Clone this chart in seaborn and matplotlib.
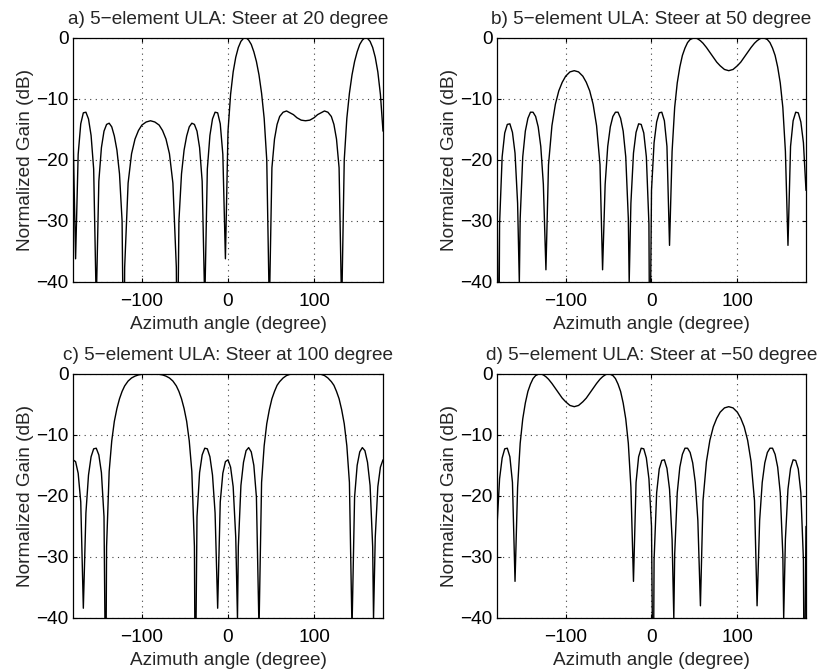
import pandas as pd
import seaborn as sns
import matplotlib
matplotlib.use("Agg")
import matplotlib.pyplot as plt

# Winkel (Grad) und normierter Gewinn (dB)
angles_a = [-180, -177, -174, -171, -168, -165, -162, -159, -156, -153, -150, -147, -144, -141, -138,
            -135, -132, -129, -126, -123, -121, -120, -116, -112, -108, -104, -100, -95, -90,
            -85, -80, -76, -72, -68, -64, -60, -59, -57, -54, -51, -48, -45, -42, -39, -36, -33,
            -30, -27, -24, -21, -18, -15, -12, -9, -6, -3, 0, 3, 6, 9, 12, 15, 18, 21, 24, 27, 30,
            33, 36, 39, 42, 45, 48, 51, 54, 57, 60, 64, 68, 72, 76, 80, 85, 90, 95, 100, 104, 108,
            112, 116, 120, 123, 126, 129, 132, 135, 138, 141, 144, 147, 150, 153, 156, 159, 162,
            165, 168, 171, 174, 177, 180]
gain_a = [-15.3, -36.2, -19.1, -14.1, -12.3, -12.2, -13.3, -16.0, -21.5, -43.6, -23.5, -18.0, -15.3,
          -14.2, -14.0, -14.6, -16.1, -18.4, -22.3, -30.0, -57.6, -37.6, -23.8, -19.0, -16.6, -15.2,
          -14.3, -13.8, -13.6,
          -13.8, -14.3, -15.2, -16.6, -19.0, -23.8, -37.6, -57.6, -30.0, -22.3, -18.4, -16.1, -14.6,
          -14.0, -14.2, -15.3, -18.0, -23.5, -43.6, -21.5, -16.0, -13.3, -12.2, -12.3, -14.1, -19.1,
          -36.2, -15.3, -9.3, -5.6, -3.2, -1.6, -0.6, -0.1, 0.0, -0.4, -1.1, -2.3, -3.9, -6.1, -9.1,
          -13.2, -20.0, -44.6, -21.3, -16.6, -14.2, -12.9, -12.2, -12.0, -12.3, -12.6, -13.1, -13.5,
          -13.6, -13.5, -13.1, -12.6, -12.3, -12.0, -12.2, -12.9, -14.2, -16.6, -21.3, -44.6, -20.0,
          -13.2, -9.1, -6.1, -3.9, -2.3, -1.1, -0.4, 0.0, -0.1, -0.6, -1.6, -3.2, -5.6, -9.3, -15.3]

angles_b = [-180, -178, -177, -174, -171, -168, -165, -162, -159, -156, -154, -153, -150, -147, -144,
            -141, -138, -135, -132, -129, -126, -123, -120, -116, -112, -108, -104, -100, -95, -90,
            -85, -80, -76, -72, -68, -64, -60, -57, -54, -51, -48, -45, -42, -39, -36, -33, -30,
            -27, -26, -24, -21, -18, -15, -12, -9, -6, -3, -2, 0, 3, 6, 9, 12, 15, 18, 21, 24, 27,
            30, 33, 36, 39, 42, 45, 48, 51, 54, 57, 60, 64, 68, 72, 76, 80, 85, 90, 95, 100, 104,
            108, 112, 116, 120, 123, 126, 129, 132, 135, 138, 141, 144, 147, 150, 153, 156, 159,
            162, 165, 168, 171, 174, 177, 180]
gain_b = [-25.0, -57.0, -30.5, -19.5, -15.6, -14.2, -14.1, -15.5, -18.9, -27.1, -40.1, -29.6, -19.5,
          -15.3, -13.2, -12.2, -12.2, -12.9, -14.6, -17.8, -24.0, -38.0, -20.8, -14.4, -10.9, -8.7,
          -7.3, -6.3, -5.6, -5.4,
          -5.6, -6.3, -7.3, -8.7, -10.9, -14.4, -20.8, -38.0, -24.0, -17.8, -14.6, -12.9, -12.2,
          -12.2, -13.2, -15.3, -19.5, -29.6, -40.1, -27.1, -18.9, -15.5, -14.1, -14.2, -15.6, -19.5,
          -30.5, -57.0, -25.0, -17.2, -13.8, -12.3, -12.2, -13.6, -17.8, -34.0, -18.6, -11.4, -7.4,
          -4.8, -2.9, -1.7, -0.8, -0.3, -0.1, 0.0, -0.2, -0.5, -0.9, -1.6, -2.4, -3.2, -4.0, -4.6,
          -5.2, -5.4, -5.2, -4.6, -4.0, -3.2, -2.4, -1.6, -0.9, -0.5, -0.2, 0.0, -0.1, -0.3, -0.8,
          -1.7, -2.9, -4.8, -7.4, -11.4, -18.6, -34.0, -17.8, -13.6, -12.2, -12.3, -13.8, -17.2, -25.0]

angles_c = [-180, -177, -174, -171, -168, -165, -162, -159, -156, -153, -150, -147, -144, -142, -141,
            -138, -135, -132, -129, -126, -123, -120, -116, -112, -108, -104, -100, -95, -90,
            -85, -80, -76, -72, -68, -64, -60, -57, -54, -51, -48, -45, -42, -39, -38, -36, -33,
            -30, -27, -24, -21, -18, -15, -12, -9, -6, -3, 0, 3, 6, 9, 11, 12, 15, 18, 21, 24, 27,
            30, 33, 36, 39, 42, 45, 48, 51, 54, 57, 60, 64, 68, 72, 76, 80, 85, 90, 95, 100, 104,
            108, 112, 116, 120, 123, 126, 129, 132, 135, 138, 141, 144, 147, 150, 153, 156, 159,
            162, 165, 168, 169, 171, 174, 177, 180]
gain_c = [-14.1, -14.4, -16.3, -21.0, -38.4, -22.8, -16.6, -13.6, -12.3, -12.2, -13.3, -16.2, -23.4,
          -55.0, -28.3, -16.0, -11.0, -7.8, -5.7, -4.1, -2.9, -2.0, -1.2, -0.7, -0.4, -0.2, -0.1,
          0.0, 0.0,
          0.0, -0.1, -0.2, -0.4, -0.7, -1.2, -2.0, -2.9, -4.1, -5.7, -7.8, -11.0, -16.0, -28.3,
          -55.0, -23.4, -16.2, -13.3, -12.2, -12.3, -13.6, -16.6, -22.8, -38.4, -21.0, -16.3, -14.4,
          -14.1, -15.3, -18.5, -26.8, -40.1, -28.3, -18.3, -14.5, -12.6, -12.1, -12.8, -15.0, -20.2,
          -41.9, -17.8, -11.8, -8.2, -5.9, -4.1, -2.9, -1.9, -1.3, -0.7, -0.3, -0.1, 0.0, 0.0, 0.0,
          0.0, 0.0, 0.0, 0.0, -0.1, -0.3, -0.7, -1.3, -1.9, -2.9, -4.1, -5.9, -8.2, -11.8, -17.8,
          -41.9, -20.2, -15.0, -12.8, -12.1, -12.6, -14.5, -18.3, -28.3, -40.1, -26.8, -18.5, -15.3,
          -14.1]

angles_d = [-180, -177, -174, -171, -168, -165, -162, -159, -156, -153, -150, -147, -144, -141, -138,
            -135, -132, -129, -126, -123, -120, -116, -112, -108, -104, -100, -95, -90, -85, -80,
            -76, -72, -68, -64, -60, -57, -54, -51, -48, -45, -42, -39, -36, -33, -30, -27, -24,
            -21, -18, -15, -12, -9, -6, -3, 0, 2, 3, 6, 9, 12, 15, 18, 21, 24, 26, 27, 30, 33, 36,
            39, 42, 45, 48, 51, 54, 57, 60, 64, 68, 72, 76, 80, 85, 90, 95, 100, 104, 108, 112,
            116, 120, 123, 126, 129, 132, 135, 138, 141, 144, 147, 150, 153, 154, 156, 159, 162,
            165, 168, 171, 174, 177, 178, 180]
gain_d = [-25.0, -17.2, -13.8, -12.3, -12.2, -13.6, -17.8, -34.0, -18.6, -11.4, -7.4, -4.8, -2.9,
          -1.7, -0.8, -0.3, -0.1, 0.0, -0.2, -0.5, -0.9, -1.6, -2.4, -3.2, -4.0, -4.6, -5.2, -5.4,
          -5.2, -4.6, -4.0, -3.2, -2.4, -1.6, -0.9, -0.5, -0.2, 0.0, -0.1, -0.3, -0.8, -1.7, -2.9,
          -4.8, -7.4, -11.4, -18.6, -34.0, -17.8, -13.6, -12.2, -12.3, -13.8, -17.2, -25.0, -57.0,
          -30.5, -19.5, -15.6, -14.2, -14.1, -15.5, -18.9, -27.1, -40.1, -29.6, -19.5, -15.3, -13.2,
          -12.2, -12.2, -12.9, -14.6, -17.8, -24.0, -38.0, -20.8, -14.4, -10.9, -8.7, -7.3, -6.3,
          -5.6, -5.4, -5.6, -6.3, -7.3, -8.7, -10.9, -14.4, -20.8, -38.0, -24.0, -17.8, -14.6, -12.9,
          -12.2, -12.2, -13.2, -15.3, -19.5, -29.6, -40.1, -27.1, -18.9, -15.5, -14.1, -14.2, -15.6,
          -19.5, -30.5, -57.0, -25.0]

titles = ["a) 5\u2212element ULA: Steer at 20 degree",
          "b) 5\u2212element ULA: Steer at 50 degree",
          "c) 5\u2212element ULA: Steer at 100 degree",
          "d) 5\u2212element ULA: Steer at \u221250 degree"]
x_ticks = [-100, 0, 100]
y_ticks = [-40, -30, -20, -10, 0]

sns.set_theme(style="ticks")
plt.rcParams["font.family"] = ["Liberation Sans", "DejaVu Sans"]
plt.rcParams["font.size"] = 13.7
plt.rcParams["axes.unicode_minus"] = True

fig = plt.figure(figsize=(8.29, 6.72), dpi=100)

# Achsenpositionen (Pixel aus dem Original) -> Figurenkoordinaten
W, H = 829, 672
boxen = [(73, 37.7, 383, 282), (497, 37.7, 806, 282),
         (73, 373.7, 383, 618), (497, 373.7, 806, 618)]
daten = [(angles_a, gain_a), (angles_b, gain_b), (angles_c, gain_c), (angles_d, gain_d)]

for (x0, y0, x1, y1), (ang, gain), titel in zip(boxen, daten, titles):
    ax = fig.add_axes([x0 / W, (H - y1) / H, (x1 - x0) / W, (y1 - y0) / H])
    df = pd.DataFrame({"Winkel": ang, "Gewinn": gain})
    sns.lineplot(data=df, x="Winkel", y="Gewinn", ax=ax, color="black",
                 linewidth=1.0, estimator=None, sort=False)
    ax.set_xlim(-180, 180)
    ax.set_ylim(-40, 0)
    ax.set_xticks(x_ticks)
    ax.set_yticks(y_ticks)
    ax.grid(True, linestyle=(0, (1, 4)), color="0.25", linewidth=0.8)
    ax.tick_params(direction="in", length=3, width=0.8, top=True, right=True,
                   labelsize=13.7, colors="black")
    ax.tick_params(axis="x", pad=8)
    ax.tick_params(axis="y", pad=3)
    for s in ax.spines.values():
        s.set_linewidth(0.9)
        s.set_color("black")
    ax.set_title(titel, fontsize=13.7, pad=10)
    ax.set_xlabel("Azimuth angle (degree)", fontsize=13.7, labelpad=4)
    ax.set_ylabel("Normalized Gain (dB)", fontsize=13.7, labelpad=2)

fig.savefig("out.png", dpi=100)
plt.close(fig)
